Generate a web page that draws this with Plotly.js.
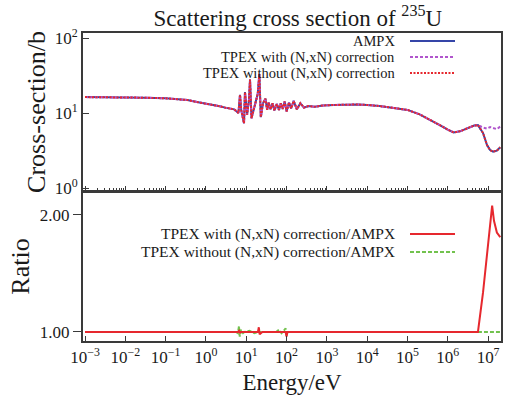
<!DOCTYPE html>
<html><head><meta charset="utf-8">
<script src="https://cdn.plot.ly/plotly-3.0.1.min.js"></script>
<style>html,body{margin:0;padding:0;background:#fff}#chart{width:510px;height:399px}</style>
</head><body><div id="chart"></div>
<script>
// ---- data ----
const energy = [1e-3, 3e-3, 1e-2, 3e-2, 0.1, 0.2, 0.35, 0.6, 1, 1.5, 2.2, 3, 4, 5, 6.4, 7.0, 7.5, 8.8, 9.3, 10.5, 11.7, 12.4, 13.5, 16, 19.3, 21.1, 23, 26, 30, 33, 36, 40, 45, 50, 57, 65, 72, 80, 90, 100, 115, 130, 150, 180, 220, 270, 350, 500, 800, 1500, 3000, 6000, 1e4, 2e4, 5e4, 1e5, 2e5, 3e5, 5e5, 7e5, 1e6, 1.4e6, 2e6, 3e6, 4.5e6, 5.6e6, 7.5e6, 9.4e6, 1.12e7, 1.33e7, 1.65e7, 2e7];
const ampx = [16.3, 16.3, 16.2, 16.0, 15.7, 15.3, 14.9, 14.0, 13.4, 12.9, 12.3, 11.8, 11.6, 11.2, 10.0, 17.5, 11.0, 7.3, 19.0, 9.5, 15.0, 28.0, 8.5, 12.0, 18.0, 33.0, 8.8, 13.5, 15.5, 11.0, 13.8, 11.2, 13.5, 10.8, 13.2, 11.0, 13.5, 11.3, 14.2, 10.5, 13.8, 11.5, 14.5, 11.2, 13.5, 11.8, 12.4, 12.1, 12.6, 12.8, 13.0, 13.0, 12.8, 12.4, 11.6, 11.0, 9.6, 8.6, 7.5, 6.7, 6.0, 5.5, 5.7, 6.3, 6.8, 6.9, 5.4, 3.75, 3.2, 3.05, 3.15, 3.5];
const tpexWith = [16.3, 16.3, 16.2, 16.0, 15.7, 15.3, 14.9, 14.0, 13.4, 12.9, 12.3, 11.8, 11.6, 11.2, 10.0, 17.5, 11.0, 7.3, 19.0, 9.5, 15.0, 28.0, 8.5, 12.0, 18.0, 33.0, 8.8, 13.5, 15.5, 11.0, 13.8, 11.2, 13.5, 10.8, 13.2, 11.0, 13.5, 11.3, 14.2, 10.5, 13.8, 11.5, 14.5, 11.2, 13.5, 11.8, 12.4, 12.1, 12.6, 12.8, 13.0, 13.0, 12.8, 12.4, 11.6, 11.0, 9.6, 8.6, 7.5, 6.7, 6.0, 5.5, 5.7, 6.3, 6.8, 6.9, 6.4, 6.2, 6.5, 6.3, 6.1, 6.6];
const tpexWithout = [16.3, 16.3, 16.2, 16.0, 15.7, 15.3, 14.9, 14.0, 13.4, 12.9, 12.3, 11.8, 11.6, 11.2, 10.0, 17.5, 11.0, 7.3, 19.0, 9.5, 15.0, 28.0, 8.5, 12.0, 18.0, 33.0, 8.8, 13.5, 15.5, 11.0, 13.8, 11.2, 13.5, 10.8, 13.2, 11.0, 13.5, 11.3, 14.2, 10.5, 13.8, 11.5, 14.5, 11.2, 13.5, 11.8, 12.4, 12.1, 12.6, 12.8, 13.0, 13.0, 12.8, 12.4, 11.6, 11.0, 9.6, 8.6, 7.5, 6.7, 6.0, 5.5, 5.7, 6.3, 6.8, 6.9, 5.4, 3.75, 3.2, 3.05, 3.15, 3.5];

const ratioEnergy = [1e-3, 3e-3, 1e-2, 3e-2, 0.1, 0.3, 1, 2, 4, 5.5, 6.2, 6.6, 6.9, 7.2, 7.6, 9, 12, 16, 19.5, 20.5, 21.5, 25, 40, 55, 65, 75, 85, 95, 100, 105, 120, 200, 500, 1e3, 1e4, 1e5, 1e6, 3e6, 5.6e6, 7.5e6, 9.4e6, 1.12e7, 1.26e7, 1.4e7, 1.65e7, 2e7];
const ratioWith = [1.0, 1.0, 0.995, 1.0, 1.0, 1.0, 1.0, 1.0, 1.0, 1.0, 1.0, 1.01, 0.99, 1.0, 1.0, 1.0, 1.0, 1.0, 1.0, 1.04, 0.98, 1.0, 1.0, 1.0, 1.0, 1.0, 1.0, 1.0, 0.96, 1.0, 1.0, 1.0, 1.0, 1.0, 1.0, 1.0, 1.0, 1.0, 1.0, 1.34, 1.67, 1.92, 2.08, 1.95, 1.85, 1.81];
const ratioWithout = [1.0, 1.0, 1.0, 0.995, 1.0, 1.0, 1.0, 1.0, 1.0, 1.0, 0.99, 1.05, 0.96, 1.03, 0.98, 1.0, 1.01, 0.99, 1.0, 1.01, 1.0, 1.0, 1.0, 1.0, 1.02, 0.99, 1.01, 1.03, 0.97, 1.0, 1.0, 1.0, 1.0, 1.0, 1.0, 1.0, 1.0, 1.0, 1.0, 1.0, 1.0, 1.0, 1.0, 1.0, 1.0, 1.0];

const xTickVals = [1e-3, 1e-2, 1e-1, 1, 10, 100, 1e3, 1e4, 1e5, 1e6, 1e7];
const xTickText = ['10<sup>\u22123</sup>', '10<sup>\u22122</sup>', '10<sup>\u22121</sup>', '10<sup>0</sup>', '10<sup>1</sup>', '10<sup>2</sup>', '10<sup>3</sup>', '10<sup>4</sup>', '10<sup>5</sup>', '10<sup>6</sup>', '10<sup>7</sup>'];
const yTickVals = [1, 10, 100];
const yTickText = ['10<sup>0</sup>', '10<sup>1</sup>', '10<sup>2</sup>'];
const ratioTickVals = [1, 2];
const ratioTickText = ['1.00', '2.00'];

const topNames = ['AMPX', 'TPEX with (N,xN) correction', 'TPEX without (N,xN) correction'];
const bottomNames = ['TPEX with (N,xN) correction/AMPX', 'TPEX without (N,xN) correction/AMPX'];

// ---- styles ----
const FONT = '"Liberation Serif", "Times New Roman", serif';
const TXT = '#1a1a1a';
const AX = '#3a3a3a';
const cBlue = '#3545a8', cPurple = '#b055cc', cRed = '#e6282e', cGreen = '#72c24e';
const dashPurple = '3px,2px', dashRed = '2px,1.5px', dashGreen = '4px,2px';

const traces = [
  {x: energy, y: ampx, xaxis: 'x', yaxis: 'y', mode: 'lines', name: topNames[0], line: {color: cBlue, width: 2}},
  {x: energy, y: tpexWith, xaxis: 'x', yaxis: 'y', mode: 'lines', name: topNames[1], line: {color: cPurple, width: 2, dash: dashPurple}},
  {x: energy, y: tpexWithout, xaxis: 'x', yaxis: 'y', mode: 'lines', name: topNames[2], line: {color: cRed, width: 2, dash: dashRed}},
  {x: ratioEnergy, y: ratioWithout, xaxis: 'x2', yaxis: 'y2', mode: 'lines', name: bottomNames[1], line: {color: cGreen, width: 2, dash: dashGreen}},
  {x: ratioEnergy, y: ratioWith, xaxis: 'x2', yaxis: 'y2', mode: 'lines', name: bottomNames[0], line: {color: cRed, width: 2}}
];

const W = 418, H = 308, L = 83, B = 58;
const px = v => (v - L) / W;          // pixel x -> paper
const py = v => (399 - B - v) / H;    // pixel y -> paper

const legendTop = [
  {name: topNames[0], y: 41, color: cBlue, dash: 'solid', size: 14.5},
  {name: topNames[1], y: 57, color: cPurple, dash: dashPurple, size: 14.5},
  {name: topNames[2], y: 73, color: cRed, dash: dashRed, size: 14.5}
];
const legendBottom = [
  {name: bottomNames[0], y: 234, color: cRed, dash: 'solid', size: 15.5},
  {name: bottomNames[1], y: 252, color: cGreen, dash: dashGreen, size: 15.5}
];
const annotations = [], shapes = [];
legendTop.concat(legendBottom).forEach(e => {
  annotations.push({xref: 'paper', yref: 'paper', x: px(396), y: py(e.y), xanchor: 'right', yanchor: 'middle',
    text: e.name, showarrow: false, borderpad: 0, font: {family: FONT, size: e.size, color: TXT}});
  shapes.push({type: 'line', xref: 'paper', yref: 'paper', x0: px(410), x1: px(455), y0: py(e.y), y1: py(e.y),
    line: {color: e.color, width: 2, dash: e.dash}});
});

const axisCommon = {showgrid: false, zeroline: false, showline: true, linecolor: AX, linewidth: 2, mirror: true,
  tickcolor: AX, tickfont: {family: FONT, size: 17, color: TXT}};

const layout = {
  width: 510, height: 399,
  margin: {l: L, r: 9, t: 33, b: B, pad: 0},
  paper_bgcolor: '#fff', plot_bgcolor: '#fff',
  showlegend: false,
  title: {text: 'Scattering cross section of <sup>235</sup>U', font: {family: FONT, size: 23, color: TXT},
    xref: 'container', yref: 'container', x: 0.584, xanchor: 'center', y: 0.955, yanchor: 'middle'},
  xaxis: Object.assign({}, axisCommon, {domain: [0, 1], anchor: 'y', type: 'log', range: [-3.05, 7.32],
    tickmode: 'array', tickvals: xTickVals, ticktext: xTickText, showticklabels: false, ticks: 'inside', ticklen: 5,
    minor: {ticks: 'inside', ticklen: 3, dtick: 'D1', tickcolor: AX, showgrid: false}, matches: 'x2'}),
  yaxis: Object.assign({}, axisCommon, {domain: [0.487, 1], anchor: 'x', type: 'log', range: [-0.04, 2.067],
    tickmode: 'array', tickvals: yTickVals, ticktext: yTickText, ticks: 'inside', ticklen: 6,
    title: {text: 'Cross-section/b', font: {family: FONT, size: 26, color: TXT}, standoff: 2}}),
  xaxis2: Object.assign({}, axisCommon, {domain: [0, 1], anchor: 'y2', type: 'log', range: [-3.05, 7.32],
    tickmode: 'array', tickvals: xTickVals, ticktext: xTickText, ticks: 'inside', ticklen: 5,
    title: {text: 'Energy/eV', font: {family: FONT, size: 23, color: TXT}, standoff: 7}}),
  yaxis2: Object.assign({}, axisCommon, {domain: [0, 0.484], anchor: 'x2', range: [0.923, 2.197],
    tickmode: 'array', tickvals: ratioTickVals, ticktext: ratioTickText, ticks: 'outside', ticklen: 8,
    title: {text: 'Ratio', font: {family: FONT, size: 26, color: TXT}, standoff: 3}}),
  annotations: annotations,
  shapes: shapes
};

Plotly.newPlot('chart', traces, layout, {displayModeBar: false, staticPlot: true});
</script>
</body></html>
